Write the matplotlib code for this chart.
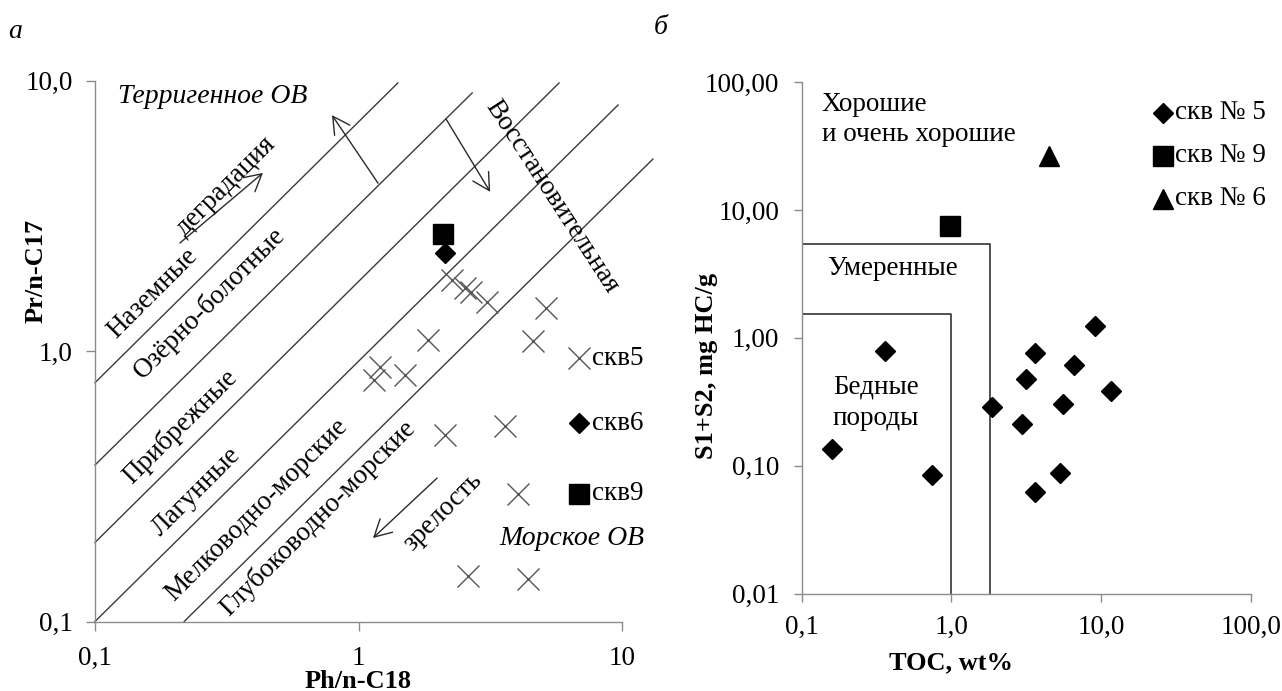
import matplotlib
matplotlib.use("Agg")
import matplotlib.pyplot as plt
from matplotlib.ticker import FixedLocator, FixedFormatter, NullLocator

plt.rcParams['font.family'] = ['Liberation Serif', 'DejaVu Serif']

# ---------------- panel а: Pr/n-C17 vs Ph/n-C18 ----------------
well5_ph = [2.26, 2.54, 2.67, 3.07, 5.15, 1.84, 4.59, 1.21, 1.145, 1.50,
            2.13, 3.60, 4.03, 2.60, 4.40]
well5_pr = [1.83, 1.71, 1.65, 1.52, 1.44, 1.10, 1.09, 0.873, 0.782, 0.816,
            0.489, 0.528, 0.296, 0.147, 0.144]
well6_ph = [2.13]
well6_pr = [2.30]
well9_ph = [2.09]
well9_pr = [2.71]

# facies boundary lines (start and end points)
bound_x0 = [0.1, 0.1, 0.1, 0.1, 0.218]
bound_y0 = [0.764, 0.379, 0.196, 0.1, 0.1]
bound_x1 = [1.41, 2.70, 5.77, 9.66, 13.1]
bound_y1 = [9.81, 9.01, 9.81, 8.13, 5.13]

facies_labels = ["Наземные", "Озёрно-болотные", "Прибрежные", "Лагунные",
                 "Мелководно-морские", "Глубоководно-морские"]

a_xticks = [0.1, 1, 10]
a_xticklabels = ["0,1", "1", "10"]
a_yticks = [0.1, 1, 10]
a_yticklabels = ["0,1", "1,0", "10,0"]

# ---------------- panel б: S1+S2 vs TOC ----------------
toc_w5 = [0.36, 0.159, 0.745, 1.87, 2.97, 3.17, 3.64, 6.6, 5.6, 9.1, 11.7,
          5.35, 3.64]
s12_w5 = [0.796, 0.136, 0.084, 0.286, 0.212, 0.478, 0.763, 0.615, 0.306,
          1.23, 0.382, 0.087, 0.062]
toc_w9 = [0.977]
s12_w9 = [7.47]
toc_w6 = [4.47]
s12_w6 = [26.4]

poor_toc, poor_s12 = 1.0, 1.54
moderate_toc, moderate_s12 = 1.82, 5.47

b_xticks = [0.1, 1, 10, 100]
b_xticklabels = ["0,1", "1,0", "10,0", "100,0"]
b_yticks = [0.01, 0.1, 1, 10, 100]
b_yticklabels = ["0,01", "0,10", "1,00", "10,00", "100,00"]

W, H = 1282, 691
FS = 19.5        # regular text
FS_IT = 20       # italic annotations
FS_B = 19        # bold axis titles
AXC = '#8c8c8c'


def fpos(x, y):
    return x / W, 1 - y / H


fig = plt.figure(figsize=(W / 100, H / 100), dpi=100)
axA = fig.add_axes([95 / W, (H - 621.5) / H, 527 / W, 540.8 / H])
axB = fig.add_axes([801.5 / W, (H - 593.5) / H, 449.5 / W, 511.2 / H])


def style_axes(ax, xt, xtl, yt, ytl, xlim, ylim, xpad, ypad, tlen):
    ax.set_xscale('log')
    ax.set_yscale('log')
    ax.set_xlim(*xlim)
    ax.set_ylim(*ylim)
    for s in ('top', 'right'):
        ax.spines[s].set_visible(False)
    for s in ('left', 'bottom'):
        ax.spines[s].set_color(AXC)
        ax.spines[s].set_linewidth(1.0)
    ax.xaxis.set_major_locator(FixedLocator(xt))
    ax.xaxis.set_major_formatter(FixedFormatter(xtl))
    ax.yaxis.set_major_locator(FixedLocator(yt))
    ax.yaxis.set_major_formatter(FixedFormatter(ytl))
    ax.xaxis.set_minor_locator(NullLocator())
    ax.yaxis.set_minor_locator(NullLocator())
    ax.tick_params(axis='x', direction='out', length=tlen, width=1.0,
                   color=AXC, labelsize=FS, pad=xpad)
    ax.tick_params(axis='y', direction='out', length=tlen, width=1.0,
                   color=AXC, labelsize=FS, pad=ypad)
    ax.patch.set_alpha(0)


style_axes(axA, a_xticks, a_xticklabels, a_yticks, a_yticklabels,
           (0.1, 10), (0.1, 10), 11, 9.5, 6.5)
style_axes(axB, b_xticks, b_xticklabels, b_yticks, b_yticklabels,
           (0.1, 100), (0.01, 100), 9.5, 10, 6)

# ---- panel а drawing ----
for x0, y0, x1, y1 in zip(bound_x0, bound_y0, bound_x1, bound_y1):
    axA.plot([x0, x1], [y0, y1], color='#3a3a3a', lw=1.0, clip_on=False,
             zorder=2)

axA.plot(well5_ph, well5_pr, linestyle='none', marker='x', markersize=15.5,
         mew=1.0, color='#555555', clip_on=False, zorder=3)
axA.plot(well6_ph, well6_pr, linestyle='none', marker='D', markersize=10,
         color='black', zorder=4)
axA.plot(well9_ph, well9_pr, linestyle='none', marker='s', markersize=14,
         color='black', zorder=4)

# region labels rotated along the boundaries
label_pos = [(0.110, 0.606), (0.218, 0.589), (0.161, 0.360), (0.192, 0.240),
             (0.307, 0.206), (0.423, 0.191)]
for txt, (fx, fy) in zip(facies_labels, label_pos):
    axA.text(fx, fy, txt, transform=axA.transAxes, rotation=45,
             rotation_mode='anchor', ha='center', va='center', fontsize=FS)

axA.text(0.2486, 0.805, "деградация", transform=axA.transAxes, rotation=45,
         rotation_mode='anchor', ha='center', va='center', fontsize=FS)
axA.text(0.660, 0.2025, "зрелость", transform=axA.transAxes, rotation=45,
         rotation_mode='anchor', ha='center', va='center', fontsize=FS)
axA.text(0.867, 0.785, "Восстановительная", transform=axA.transAxes,
         rotation=-57, rotation_mode='anchor', ha='center', va='center',
         fontsize=FS)
axA.text(0.0436, 0.970, "Терригенное ОВ", transform=axA.transAxes,
         ha='left', va='center', fontsize=FS_IT, style='italic')
axA.text(0.7666, 0.1526, "Морское ОВ", transform=axA.transAxes,
         ha='left', va='center', fontsize=FS_IT, style='italic')

arrow_kw = dict(arrowstyle='->,head_length=0.55,head_width=0.3',
                color='#2a2a2a', lw=1.0, mutation_scale=22,
                shrinkA=0, shrinkB=0)
for (x0, y0), (x1, y1) in [((0.210, 2.51), (0.434, 4.56)),
                           ((1.986, 0.339), (1.135, 0.2036)),
                           ((1.186, 4.18), (0.793, 7.46)),
                           ((2.15, 7.21), (3.16, 3.88))]:
    axA.annotate("", xy=(x1, y1), xytext=(x0, y0),
                 arrowprops=arrow_kw, annotation_clip=False)

# legend of panel а
legA = [('x', 15.5, '#555555', "скв5", 0.487),
        ('D', 10, 'black', "скв6", 0.367),
        ('s', 14, 'black', "скв9", 0.236)]
for mk, ms, col, txt, fy in legA:
    axA.plot([0.918], [fy], marker=mk, markersize=ms, mew=1.0, color=col,
             linestyle='none', transform=axA.transAxes, clip_on=False)
    axA.text(0.943, fy, txt, transform=axA.transAxes, ha='left',
             va='center', fontsize=FS)

# ---- panel б drawing ----
axB.plot([0.1, poor_toc, poor_toc], [poor_s12, poor_s12, 0.01],
         color='#222222', lw=1.1, zorder=2)
axB.plot([0.1, moderate_toc, moderate_toc],
         [moderate_s12, moderate_s12, 0.01], color='#222222', lw=1.1,
         zorder=2)

axB.plot(toc_w5, s12_w5, linestyle='none', marker='D', markersize=10,
         color='black', zorder=3)
axB.plot(toc_w9, s12_w9, linestyle='none', marker='s', markersize=14,
         color='black', zorder=3)
axB.plot(toc_w6, s12_w6, linestyle='none', marker='^', markersize=14,
         color='black', zorder=3)

axB.text(0.045, 0.9556, "Хорошие", transform=axB.transAxes, ha='left',
         va='center', fontsize=FS)
axB.text(0.045, 0.897, "и очень хорошие", transform=axB.transAxes,
         ha='left', va='center', fontsize=FS)
axB.text(0.056, 0.6367, "Умеренные", transform=axB.transAxes, ha='left',
         va='center', fontsize=FS)
axB.text(0.070, 0.404, "Бедные", transform=axB.transAxes, ha='left',
         va='center', fontsize=FS)
axB.text(0.070, 0.3433, "породы", transform=axB.transAxes, ha='left',
         va='center', fontsize=FS)

legB = [('D', 10, "скв № 5", 0.940),
        ('s', 14, "скв № 9", 0.856),
        ('^', 14, "скв № 6", 0.772)]
for mk, ms, txt, fy in legB:
    axB.plot([0.804], [fy], marker=mk, markersize=ms, color='black',
             linestyle='none', transform=axB.transAxes, clip_on=False)
    axB.text(0.830, fy, txt, transform=axB.transAxes, ha='left',
             va='center', fontsize=FS)

# axis titles and panel letters
fig.text(*fpos(36, 271), "Pr/n-C17", rotation=90, ha='center', va='center',
         fontsize=FS_B, fontweight='bold')
fig.text(*fpos(358, 681), "Ph/n-C18", ha='center', va='center',
         fontsize=FS_B, fontweight='bold')
fig.text(*fpos(707, 366), "S1+S2, mg HC/g", rotation=90, ha='center',
         va='center', fontsize=FS_B, fontweight='bold')
fig.text(*fpos(951, 663), "TOC, wt%", ha='center', va='center',
         fontsize=FS_B, fontweight='bold')
fig.text(*fpos(15, 31), "а", ha='center', va='center', fontsize=FS_IT,
         style='italic')
fig.text(*fpos(661, 28), "б", ha='center', va='center', fontsize=FS_IT,
         style='italic')

fig.savefig("out.png", dpi=100)
